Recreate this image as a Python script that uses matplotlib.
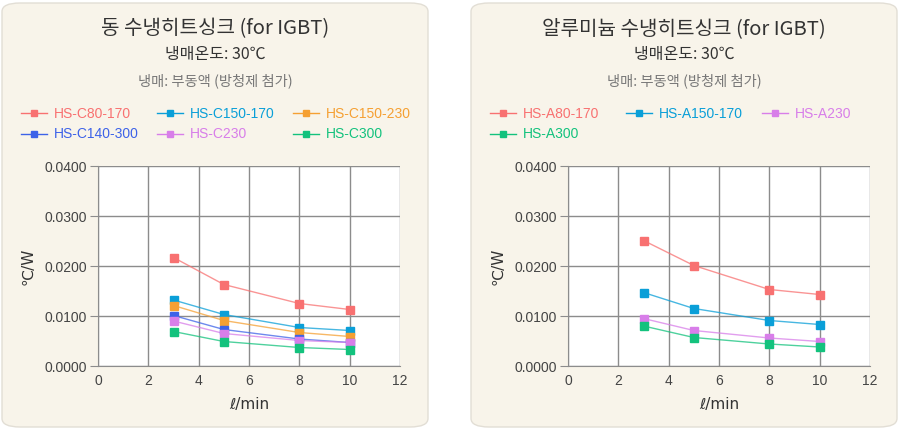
import matplotlib.pyplot as plt
from matplotlib.patches import FancyBboxPatch
from matplotlib.ticker import FormatStrFormatter

plt.rcParams['font.family'] = ['Liberation Sans', 'Noto Sans CJK KR', 'DejaVu Sans']

# flow rate (l/min)
flow = [3, 5, 8, 10]

# copper heat sinks
cu_names = ['HS-C80-170', 'HS-C150-170', 'HS-C150-230', 'HS-C140-300', 'HS-C230', 'HS-C300']
cu_c80_170 = [0.0217, 0.0163, 0.0125, 0.0113]
cu_c150_170 = [0.0132, 0.0103, 0.0077, 0.0071]
cu_c150_230 = [0.0121, 0.0091, 0.0067, 0.0059]
cu_c140_300 = [0.0101, 0.0073, 0.0054, 0.0047]
cu_c230 = [0.0090, 0.0065, 0.0051, 0.0047]
cu_c300 = [0.0069, 0.0049, 0.0037, 0.0033]

# aluminium heat sinks
al_names = ['HS-A80-170', 'HS-A150-170', 'HS-A230', 'HS-A300']
al_a80_170 = [0.0251, 0.0201, 0.0153, 0.0143]
al_a150_170 = [0.0147, 0.0115, 0.0091, 0.0083]
al_a230 = [0.0095, 0.0071, 0.0056, 0.0049]
al_a300 = [0.0080, 0.0057, 0.0044, 0.0038]

RED, CYAN, ORANGE = '#f87171', '#0a9fd8', '#f5a033'
BLUE, VIOLET, GREEN = '#3d62e8', '#d87ee9', '#13c27d'

cu_series = list(zip(cu_names, [cu_c80_170, cu_c150_170, cu_c150_230, cu_c140_300, cu_c230, cu_c300],
                     [RED, CYAN, ORANGE, BLUE, VIOLET, GREEN]))
al_series = list(zip(al_names, [al_a80_170, al_a150_170, al_a230, al_a300],
                     [RED, CYAN, VIOLET, GREEN]))

fig = plt.figure(figsize=(9, 4.3), dpi=100)
fig.patch.set_facecolor('white')


def panel(x0, title, series, ax_left):
    # rounded beige card
    card = FancyBboxPatch((x0 / 900, 3 / 430), 426 / 900, 424 / 430,
                          boxstyle='round,pad=0,rounding_size=0.02',
                          transform=fig.transFigure, facecolor='#f8f4ea',
                          edgecolor='#e2ded5', linewidth=1, zorder=-10)
    fig.patches.append(card)
    cx = (x0 + 213) / 900
    kfont = ['Noto Sans CJK KR', 'DejaVu Sans']
    fig.text(cx, 1 - 29 / 430, title, ha='center', va='center', fontsize=14.5,
             color='#333333', family=kfont)
    fig.text(cx, 1 - 54 / 430, '냉매온도: 30℃', ha='center', va='center', fontsize=11.5,
             color='#333333', family=kfont)
    fig.text(cx, 1 - 81 / 430, '냉매: 부동액 (방청제 첨가)', ha='center', va='center',
             fontsize=10.3, color='#777777', family=kfont)

    ax = fig.add_axes([ax_left / 900, 64 / 430, 302 / 900, 200 / 430])
    ax.set_facecolor('white')
    handles = []
    for name, vals, col in series:
        ax.plot(flow, vals, color=col, lw=1, alpha=0.75, zorder=2)
        ax.plot(flow, vals, ls='none', marker='s', ms=5.3, color=col, zorder=3)
        h, = ax.plot([], [], color=col, lw=1, marker='s', ms=4.5, label=name)
        handles.append(h)

    ax.set_xlim(0, 12)
    ax.set_ylim(0, 0.04)
    ax.set_xticks(range(0, 13, 2))
    ax.set_yticks([0, 0.01, 0.02, 0.03, 0.04])
    ax.yaxis.set_major_formatter(FormatStrFormatter('%.4f'))
    ax.grid(True, color='#8c8c8c', lw=1)
    ax.set_axisbelow(True)
    for s in ['top', 'right']:
        ax.spines[s].set_visible(False)
    for s in ['left', 'bottom']:
        ax.spines[s].set_color('#8c8c8c')
    ax.tick_params(axis='y', length=6, color='#8c8c8c', labelsize=10, labelcolor='#444444', pad=2)
    ax.tick_params(axis='x', length=0, labelsize=10, labelcolor='#444444', pad=6)
    ax.set_ylabel('℃/W', fontsize=11, color='#333333', labelpad=6, family=['DejaVu Sans'])
    ax.set_xlabel('ℓ/min', fontsize=11, color='#333333', labelpad=6, family=['DejaVu Sans'])

    # one legend per column so every column sits on a fixed 136 px grid,
    # entries read row by row like the original
    for c in range(3):
        col_handles = handles[c::3]
        if not col_handles:
            continue
        fig.legend(handles=col_handles, loc='upper left',
                   bbox_to_anchor=((x0 + 13 + c * 136) / 900, 1 - 101 / 430),
                   frameon=False, fontsize=10, labelcolor='linecolor',
                   handlelength=1.9, handletextpad=0.5,
                   labelspacing=0.5, borderaxespad=0)
    return ax


panel(2, '동 수냉히트싱크 (for IGBT)', cu_series, 98)
panel(471, '알루미늄 수냉히트싱크 (for IGBT)', al_series, 568)

fig.savefig('out.png', dpi=100, facecolor='white')
